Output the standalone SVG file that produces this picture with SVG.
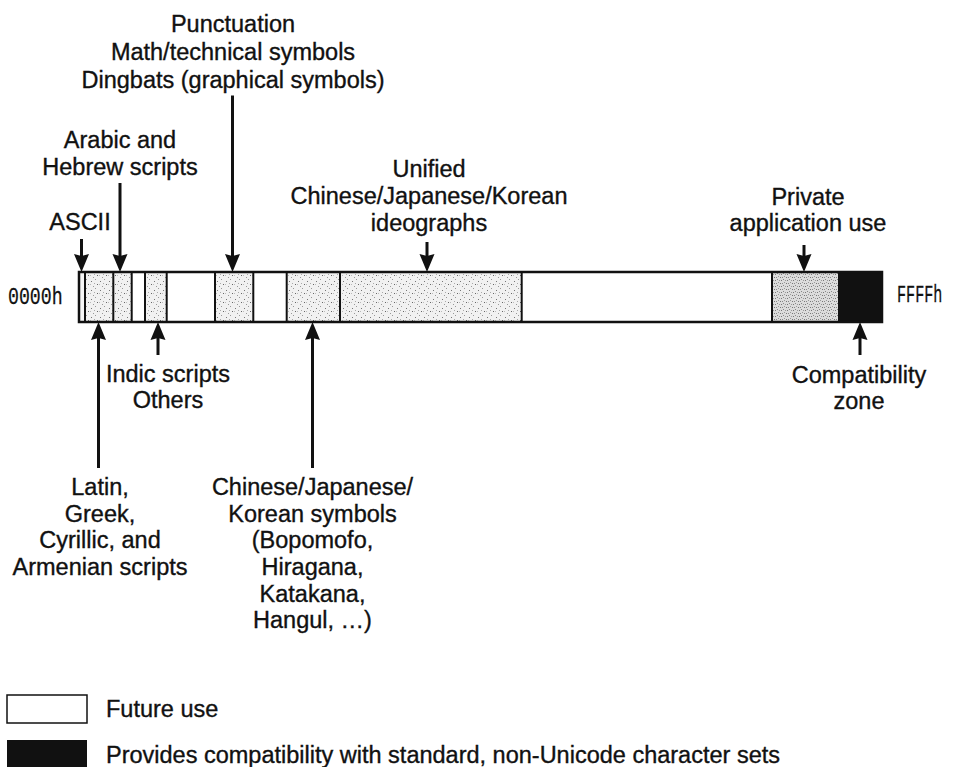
<svg xmlns="http://www.w3.org/2000/svg" xmlns:xlink="http://www.w3.org/1999/xlink" width="955" height="767" viewBox="0 0 955 767">
  <style>
    .lbl { font-family: "Liberation Sans", Arial, sans-serif; font-size: 23.5px; fill: #111; stroke: #111; stroke-width: 0.35px; text-anchor: middle; }
    .leg { font-family: "Liberation Sans", Arial, sans-serif; font-size: 23.5px; fill: #111; stroke: #111; stroke-width: 0.35px; }
    .hex { font-family: "Liberation Mono", "DejaVu Sans Mono", monospace; font-size: 24px; fill: #111; stroke: #111; stroke-width: 0.3px; }
    .shaft { stroke: #111; stroke-width: 3; fill: none; }
    .div { stroke: #111; stroke-width: 2; }
  </style>
  <defs>
    <!-- light stipple used for assigned ranges -->
    <pattern id="stip" width="9" height="9" patternUnits="userSpaceOnUse">
      <rect width="9" height="9" fill="#f1f1f1"/>
      <rect x="1" y="2" width="1" height="1" fill="#777"/>
      <rect x="5" y="0" width="1" height="1" fill="#999"/>
      <rect x="7" y="5" width="1" height="1" fill="#666"/>
      <rect x="3" y="7" width="1" height="1" fill="#999"/>
      <rect x="0" y="5" width="1" height="1" fill="#bbb"/>
      <rect x="4" y="4" width="1" height="1" fill="#aaa"/>
    </pattern>
    <!-- denser stipple for the private-use range -->
    <pattern id="stipDense" width="6" height="6" patternUnits="userSpaceOnUse">
      <rect width="6" height="6" fill="#dcdcdc"/>
      <rect x="0" y="1" width="1" height="1" fill="#777"/>
      <rect x="2" y="1" width="1" height="1" fill="#888"/>
      <rect x="4" y="0" width="1" height="1" fill="#999"/>
      <rect x="1" y="4" width="1" height="1" fill="#777"/>
      <rect x="3" y="3" width="1" height="1" fill="#888"/>
      <rect x="5" y="4" width="1" height="1" fill="#999"/>
    </pattern>
    <path id="headDown" d="M0,0 L-7.5,-18 L0,-16 L7.5,-18 Z" fill="#111"/>
    <path id="headUp" d="M0,0 L-7.5,18 L0,16 L7.5,18 Z" fill="#111"/>
  </defs>

  <rect width="955" height="767" fill="#fff"/>

  <!-- code space bar -->
  <g id="codebar">
    <rect x="79" y="272" width="6" height="50" fill="#f6f6f6"/>
    <rect x="85" y="272" width="28.3" height="50" fill="url(#stip)"/>
    <rect x="113.3" y="272" width="18.4" height="50" fill="url(#stip)"/>
    <rect x="145" y="272" width="21.7" height="50" fill="url(#stip)"/>
    <rect x="215" y="272" width="38.3" height="50" fill="url(#stip)"/>
    <rect x="286.7" y="272" width="53.3" height="50" fill="url(#stip)"/>
    <rect x="340" y="272" width="181.7" height="50" fill="url(#stip)"/>
    <rect x="772" y="272" width="66" height="50" fill="url(#stipDense)"/>
    <rect x="838" y="272" width="44" height="50" fill="#111"/>
    <rect x="79" y="272" width="803" height="50" fill="none" stroke="#111" stroke-width="2.5"/>
    <g class="div">
      <line x1="85" y1="272" x2="85" y2="322"/>
      <line x1="113.3" y1="272" x2="113.3" y2="322"/>
      <line x1="131.7" y1="272" x2="131.7" y2="322"/>
      <line x1="145" y1="272" x2="145" y2="322"/>
      <line x1="166.7" y1="272" x2="166.7" y2="322"/>
      <line x1="215" y1="272" x2="215" y2="322"/>
      <line x1="253.3" y1="272" x2="253.3" y2="322"/>
      <line x1="286.7" y1="272" x2="286.7" y2="322"/>
      <line x1="340" y1="272" x2="340" y2="322"/>
      <line x1="521.7" y1="272" x2="521.7" y2="322"/>
      <line x1="772" y1="272" x2="772" y2="322"/>
    </g>
    <!-- range end labels, horizontally condensed -->
    <text class="hex" transform="translate(8,304) scale(0.76,1)">0000h</text>
    <text class="hex" transform="translate(897,302) scale(0.63,1)">FFFFh</text>
  </g>

  <!-- connectors -->
  <g id="connectors">
    <line class="shaft" x1="81.5" y1="239" x2="81.5" y2="256"/>
    <use xlink:href="#headDown" x="81.5" y="272"/>
    <line class="shaft" x1="120" y1="183" x2="120" y2="256"/>
    <use xlink:href="#headDown" x="120" y="272"/>
    <line class="shaft" x1="232.5" y1="95.5" x2="232.5" y2="256"/>
    <use xlink:href="#headDown" x="232.5" y="272"/>
    <line class="shaft" x1="427" y1="242" x2="427" y2="256"/>
    <use xlink:href="#headDown" x="427" y="272"/>
    <line class="shaft" x1="804" y1="245" x2="804" y2="256"/>
    <use xlink:href="#headDown" x="804" y="272"/>

    <line class="shaft" x1="98.5" y1="338" x2="98.5" y2="468"/>
    <use xlink:href="#headUp" x="98.5" y="322"/>
    <line class="shaft" x1="158" y1="338" x2="158" y2="355"/>
    <use xlink:href="#headUp" x="158" y="322"/>
    <line class="shaft" x1="312.5" y1="338" x2="312.5" y2="468"/>
    <use xlink:href="#headUp" x="312.5" y="322"/>
    <line class="shaft" x1="860" y1="338" x2="860" y2="355"/>
    <use xlink:href="#headUp" x="860" y="322"/>
  </g>

  <!-- labels above the bar -->
  <g id="punctuation">
    <text class="lbl" x="233" y="32">Punctuation</text>
    <text class="lbl" x="233" y="60">Math/technical symbols</text>
    <text class="lbl" x="233" y="87.5">Dingbats (graphical symbols)</text>
  </g>
  <g id="arabic-hebrew">
    <text class="lbl" x="120" y="148">Arabic and</text>
    <text class="lbl" x="120" y="175">Hebrew scripts</text>
  </g>
  <g id="ascii">
    <text class="lbl" x="80" y="230">ASCII</text>
  </g>
  <g id="cjk-ideographs">
    <text class="lbl" x="429" y="177">Unified</text>
    <text class="lbl" x="429" y="204">Chinese/Japanese/Korean</text>
    <text class="lbl" x="429" y="231">ideographs</text>
  </g>
  <g id="private-use">
    <text class="lbl" x="808" y="205">Private</text>
    <text class="lbl" x="808" y="231">application use</text>
  </g>

  <!-- labels below the bar -->
  <g id="indic-others">
    <text class="lbl" x="168" y="382">Indic scripts</text>
    <text class="lbl" x="168" y="408">Others</text>
  </g>
  <g id="compatibility">
    <text class="lbl" x="859" y="383">Compatibility</text>
    <text class="lbl" x="859" y="409">zone</text>
  </g>
  <g id="latin-greek">
    <text class="lbl" x="100" y="495">Latin,</text>
    <text class="lbl" x="100" y="521.7">Greek,</text>
    <text class="lbl" x="100" y="548.3">Cyrillic, and</text>
    <text class="lbl" x="100" y="575">Armenian scripts</text>
  </g>
  <g id="cjk-symbols">
    <text class="lbl" x="312.5" y="495">Chinese/Japanese/</text>
    <text class="lbl" x="312.5" y="521.7">Korean symbols</text>
    <text class="lbl" x="312.5" y="548.3">(Bopomofo,</text>
    <text class="lbl" x="312.5" y="575">Hiragana,</text>
    <text class="lbl" x="312.5" y="601.7">Katakana,</text>
    <text class="lbl" x="312.5" y="628.3">Hangul, …)</text>
  </g>

  <!-- legend -->
  <g id="legend-future">
    <rect x="7" y="695" width="80" height="28" fill="#fff" stroke="#111" stroke-width="1.5"/>
    <text class="leg" x="106" y="717">Future use</text>
  </g>
  <g id="legend-compat">
    <rect x="7" y="740" width="80" height="28" fill="#111"/>
    <text class="leg" x="106" y="763">Provides compatibility with standard, non-Unicode character sets</text>
  </g>
</svg>
